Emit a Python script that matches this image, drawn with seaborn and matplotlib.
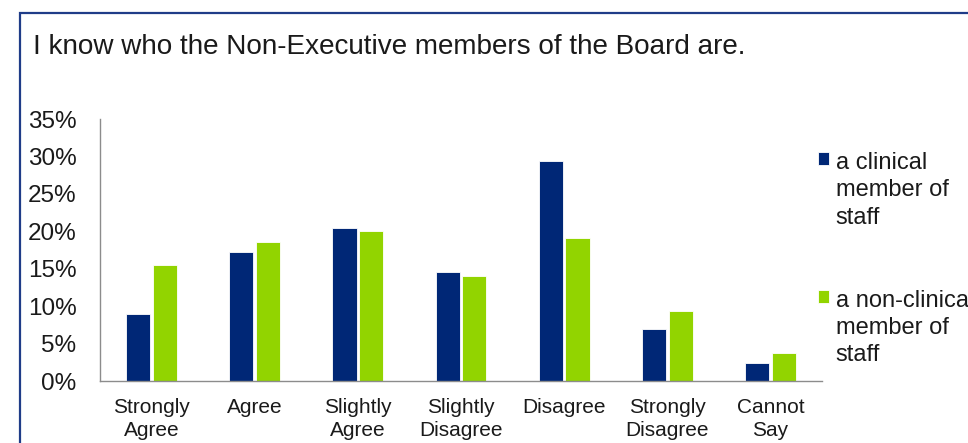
import pandas as pd
import seaborn as sns
import matplotlib.pyplot as plt
from matplotlib.patches import Rectangle

# values (fraction of respondents)
categories = ['Strongly\nAgree', 'Agree', 'Slightly\nAgree', 'Slightly\nDisagree',
              'Disagree', 'Strongly\nDisagree', 'Cannot\nSay']
clinical = [0.090, 0.172, 0.205, 0.145, 0.294, 0.069, 0.024]
non_clinical = [0.155, 0.186, 0.201, 0.140, 0.191, 0.093, 0.037]
series = ['a clinical\nmember of\nstaff', 'a non-clinical\nmember of\nstaff']
colors = ['#002776', '#92D400']
yticks = [0, 0.05, 0.10, 0.15, 0.20, 0.25, 0.30, 0.35]

df = pd.DataFrame({
    'category': categories * 2,
    'value': clinical + non_clinical,
    'group': [series[0]] * len(categories) + [series[1]] * len(categories),
})

sns.set_style('white')
plt.rcParams['font.family'] = ['Liberation Sans', 'DejaVu Sans']
text_col = '#1a1a1a'
spine_col = '#8c8c8c'

fig = plt.figure(figsize=(9.68, 4.43), dpi=100)
ax = fig.add_axes([100 / 968, 1 - 381 / 443, 722 / 968, 262 / 443])

sns.barplot(data=df, x='category', y='value', hue='group', palette=colors,
            order=categories, hue_order=series, width=0.52, gap=0.1,
            saturation=1, edgecolor='white', linewidth=0.6, ax=ax)

ax.set_ylim(0, 0.35)
ax.set_xlim(-0.5, len(categories) - 0.5)
ax.set_yticks(yticks)
ax.set_yticklabels([f'{round(v * 100)}%' for v in yticks])
ax.set_xticks(range(len(categories)))
ax.set_xticklabels(categories, linespacing=1.3)
ax.set_xticks([i - 0.5 for i in range(len(categories) + 1)], minor=True)
ax.tick_params(axis='x', which='major', length=0, pad=12, labelsize=15, colors=text_col)
ax.tick_params(axis='x', which='minor', length=7, width=1, color=spine_col, direction='out')
ax.tick_params(axis='y', length=8, width=1, color=spine_col, direction='out',
               pad=9, labelsize=17.5, labelcolor=text_col)
ax.set_xlabel('')
ax.set_ylabel('')
for side in ['top', 'right']:
    ax.spines[side].set_visible(False)
for side in ['left', 'bottom']:
    ax.spines[side].set_color(spine_col)
    ax.spines[side].set_linewidth(1)

leg = ax.legend(loc='upper left', bbox_to_anchor=(818 / 968, 1 - 152 / 443),
                bbox_transform=fig.transFigure, frameon=False, fontsize=17,
                handlelength=0.45, handleheight=0.45, handletextpad=0.3,
                labelspacing=2.6, borderpad=0, borderaxespad=0)
for t in leg.get_texts():
    t.set_color(text_col)
    t.set_linespacing(1.31)
# put legend squares level with the first line of text
for col in leg._legend_handle_box.get_children():
    for row in col.get_children():
        row.align = 'top'

fig.text(33 / 968, 1 - 47 / 443, 'I know who the Non-Executive members of the Board are.',
         fontsize=20.1, color=text_col, va='center', ha='left')

# dark blue frame around the chart area
fig.patches.append(Rectangle((20 / 968, -0.1), 1.2, 1 - 13 / 443 + 0.1,
                             transform=fig.transFigure, fill=False,
                             edgecolor='#1F3C88', linewidth=1.6, clip_on=False))

fig.savefig('out.png', dpi=100)
